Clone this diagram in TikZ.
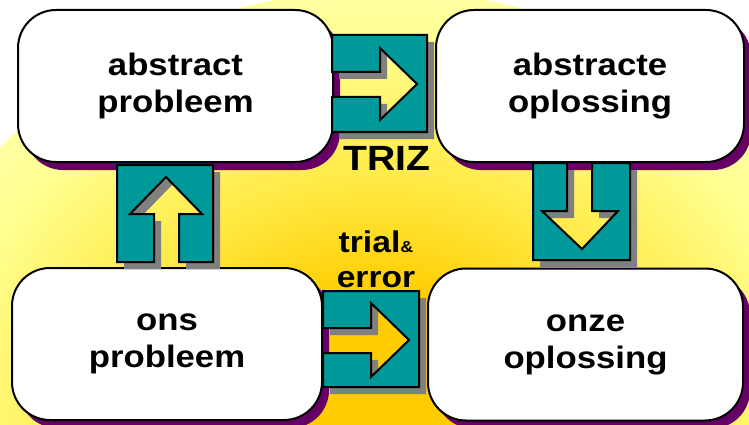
\documentclass[tikz,border=0pt]{standalone}
\usepackage{fontspec}
\usetikzlibrary{shadows}
\newfontfamily\lab{Liberation Sans}[FakeStretch=1.12]
\definecolor{tealc}{HTML}{009999}
\definecolor{purp}{HTML}{660066}
\definecolor{shgray}{HTML}{808080}
\definecolor{goldc}{HTML}{FFCC00}
\definecolor{ylwa}{HTML}{FFE840}
\definecolor{ylwb}{HTML}{FFFF90}
\definecolor{ylwc}{HTML}{FFFFD0}
\definecolor{ylwd}{HTML}{FFFFF0}
\pgfdeclareradialshading{bgshade}{\pgfpoint{0bp}{0bp}}{color(0bp)=(goldc); color(8bp)=(goldc); color(14bp)=(ylwa); color(22bp)=(ylwb); color(32bp)=(ylwc); color(41bp)=(ylwd); color(47bp)=(white); color(50bp)=(white)}
\tikzset{
  boxnode/.style={draw=black, line width=2pt, fill=white, rounded corners=38pt,
    minimum width=315pt, minimum height=152pt, align=center,
    font={\lab\bfseries\fontsize{31}{37}\selectfont},
    drop shadow={shadow xshift=7pt, shadow yshift=-8pt, fill=purp, opacity=1}},
  blockarrow/.style={draw=black, line width=2pt, fill=tealc, line join=miter},
  blockshadow/.style={fill=shgray, shift={(7,7)}},
  lbl/.style={font={\lab\bfseries\fontsize{30}{35}\selectfont}, align=center, inner sep=0pt}
}
\def\trizpath{(332,35) -- (427,35) -- (427,132) -- (332,132) -- (332,97) -- (380,97) -- (380,120) -- (417,84) -- (380,48) -- (380,72) -- (332,72) -- cycle}
\def\trialpath{(323,291) -- (419,291) -- (419,387) -- (323,387) -- (323,353) -- (371,353) -- (371,377) -- (409,340) -- (371,303) -- (371,328) -- (323,328) -- cycle}
\def\uppath{(117,165) -- (213,165) -- (213,262) -- (179,262) -- (179,214) -- (202,214) -- (166,177) -- (130,214) -- (154,214) -- (154,262) -- (117,262) -- cycle}
\def\downpath{(533,163) -- (567,163) -- (567,211) -- (542,211) -- (582,249) -- (618,211) -- (592,211) -- (592,163) -- (630,163) -- (630,260) -- (533,260) -- cycle}
\begin{document}
\begin{tikzpicture}[x=1pt, y=-1pt]
  \useasboundingbox (0,0) rectangle (749,425);
  \begin{scope}
    \clip (0,0) rectangle (749,425);
    \fill[white] (0,0) rectangle (749,425);
    \shade[shading=bgshade] (380,440) ellipse (500 and 450);
  \end{scope}
  % boxes
  \node[boxnode] (ap) at (175.5,86) {abstract\\probleem};
  \node[boxnode, minimum width=308pt] (ao) at (590,86) {abstracte\\oplossing};
  \node[boxnode, minimum width=310pt] (op) at (167,344) {ons\\probleem};
  \node[boxnode] (oo) at (585.5,344.5) {onze\\oplossing};
  % block arrows: shadows
  \fill[blockshadow] \trizpath;
  \fill[blockshadow] \trialpath;
  \fill[blockshadow] \uppath;
  \fill[blockshadow] \downpath;
  % block arrows
  \draw[blockarrow] \trizpath;
  \draw[blockarrow] \trialpath;
  \draw[blockarrow] \uppath;
  \draw[blockarrow] \downpath;
  % labels
  \node[lbl, font={\lab\bfseries\fontsize{35}{40}\selectfont}] (triz) at (387,158) {TRIZ};
  \node[lbl] (trial) at (376,259) {trial{\fontsize{16}{16}\selectfont\&}\\error};
\end{tikzpicture}
\end{document}
